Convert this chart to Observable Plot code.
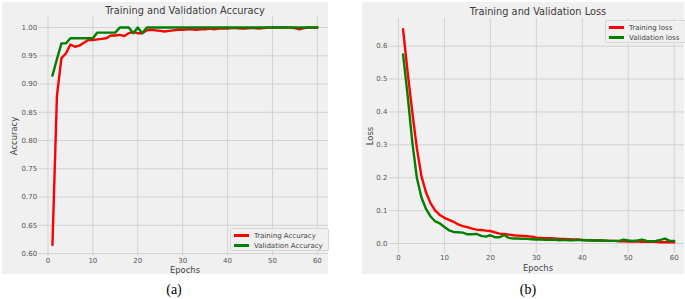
<!DOCTYPE html>
<html>
<head>
<meta charset="utf-8">
<script src="https://cdn.jsdelivr.net/npm/d3@7"></script>
<script src="https://cdn.jsdelivr.net/npm/@observablehq/plot@0.6"></script>
<style>
  html, body { margin: 0; padding: 0; background: #fff; }
  #wrap { position: relative; width: 685px; height: 299px; overflow: hidden; font-family: "DejaVu Sans", sans-serif; }
  .panel { position: absolute; background: #f0f0f0; }
  .panel svg { position: absolute; left: 0; top: 0; overflow: visible; }
  .t { position: absolute; white-space: nowrap; color: #444; transform: translate(-50%, -50%); }
  .title { font-size: 9.8px; color: #3c3c3c; }
  .alab { font-size: 8.4px; }
  .ylab { transform: translate(-50%, -50%) rotate(-90deg); }
  .cap { font-family: "Liberation Serif", "DejaVu Serif", serif; font-size: 14px; color: #000; }
  .legend { position: absolute; background: rgba(240,240,240,0.9); border: 1px solid #d6d6d6; border-radius: 2px; font-size: 7px; color: #444; box-sizing: border-box; }
  .legend .row { position: absolute; left: 0; display: flex; align-items: center; }
  .legend .sw { display: inline-block; width: 15px; height: 2.5px; margin-left: 3px; margin-right: 5px; }
</style>
</head>
<body>
<div id="wrap"></div>
<script>
// ---------- data ----------
const epochs = d3.range(1, 61);
const trainAcc = [0.615,0.879,0.946,0.954,0.970,0.966,0.968,0.973,0.978,0.978,
  0.979,0.980,0.981,0.986,0.986,0.987,0.985,0.990,0.992,0.990,
  0.990,0.995,0.996,0.995,0.994,0.993,0.994,0.995,0.996,0.996,
  0.997,0.997,0.996,0.997,0.997,0.998,0.997,0.998,0.998,0.998,
  0.999,0.999,0.998,0.998,0.999,0.999,0.998,0.999,1.000,1.000,
  1.000,1.000,1.000,1.000,0.999,0.997,0.999,1.000,1.000,1.000];
const valAcc = [0.915,0.944,0.972,0.972,0.981,0.981,0.981,0.981,0.981,0.981,
  0.991,0.991,0.991,0.991,0.991,1.000,1.000,1.000,0.990,1.000,
  0.990,1.000,1.000,1.000,1.000,1.000,1.000,1.000,1.000,1.000,
  1.000,1.000,1.000,1.000,1.000,1.000,1.000,1.000,1.000,1.000,
  1.000,1.000,1.000,1.000,1.000,1.000,1.000,1.000,1.000,1.000,
  1.000,1.000,1.000,1.000,1.000,1.000,1.000,1.000,1.000,1.000];
const trainLoss = [0.652,0.520,0.400,0.290,0.205,0.155,0.122,0.100,0.087,0.078,
  0.072,0.066,0.058,0.053,0.050,0.045,0.042,0.041,0.039,0.038,
  0.034,0.030,0.029,0.027,0.025,0.024,0.023,0.022,0.021,0.018,
  0.017,0.016,0.016,0.015,0.014,0.014,0.013,0.012,0.012,0.011,
  0.010,0.010,0.009,0.009,0.008,0.008,0.008,0.007,0.007,0.006,
  0.006,0.006,0.005,0.005,0.005,0.005,0.004,0.004,0.004,0.004];
const valLoss = [0.575,0.450,0.310,0.200,0.140,0.105,0.082,0.067,0.061,0.050,
  0.040,0.035,0.034,0.033,0.028,0.028,0.029,0.023,0.021,0.025,
  0.019,0.019,0.026,0.017,0.015,0.015,0.014,0.014,0.013,0.012,
  0.012,0.011,0.011,0.012,0.010,0.011,0.010,0.010,0.011,0.010,
  0.010,0.009,0.009,0.009,0.009,0.008,0.008,0.008,0.012,0.009,
  0.008,0.009,0.012,0.008,0.007,0.008,0.011,0.015,0.008,0.008];
const xTicks = [0, 10, 20, 30, 40, 50, 60];
const accTicks = [0.60, 0.65, 0.70, 0.75, 0.80, 0.85, 0.90, 0.95, 1.00];
const lossTicks = [0.0, 0.1, 0.2, 0.3, 0.4, 0.5, 0.6];
const accLabels = ["Training Accuracy", "Validation Accuracy"];
const lossLabels = ["Training loss", "Validation loss"];
const colors = ["#ff0000", "#008000"];

const wrap = document.getElementById("wrap");

function el(cls, text, x, y) {
  const d = document.createElement("div");
  d.className = "t " + cls;
  d.textContent = text;
  d.style.left = x + "px";
  d.style.top = y + "px";
  wrap.appendChild(d);
  return d;
}

function panel(cfg) {
  const p = document.createElement("div");
  p.className = "panel";
  p.style.left = cfg.left + "px";
  p.style.top = cfg.top + "px";
  p.style.width = cfg.width + "px";
  p.style.height = cfg.height + "px";
  wrap.appendChild(p);
  const rows = (s) => s.map((v, i) => ({epoch: epochs[i], v}));
  const chart = Plot.plot({
    width: cfg.width,
    height: cfg.height,
    marginLeft: cfg.xRange[0],
    marginRight: 0,
    marginTop: cfg.yRange[1],
    marginBottom: cfg.height - cfg.yRange[0],
    style: {background: "transparent", fontSize: "7px", fontFamily: "DejaVu Sans, sans-serif", color: "#555", overflow: "visible"},
    x: {domain: [-1.95, 62.95], range: cfg.xRange},
    y: {domain: cfg.yDomain, range: cfg.yRange},
    marks: [
      Plot.gridX(xTicks, {stroke: "#d2d2d2", strokeOpacity: 1, strokeWidth: 1}),
      Plot.gridY(cfg.yTicks, {stroke: "#d2d2d2", strokeOpacity: 1, strokeWidth: 1}),
      Plot.axisX({ticks: xTicks, tickSize: 0, tickPadding: 2, label: null, tickFormat: d3.format("d")}),
      Plot.axisY({ticks: cfg.yTicks, tickSize: 0, tickPadding: cfg.yPad, label: null, tickFormat: d3.format(cfg.fmt)}),
      Plot.line(rows(cfg.series[0]), {x: "epoch", y: "v", stroke: colors[0], strokeWidth: 2.4}),
      Plot.line(rows(cfg.series[1]), {x: "epoch", y: "v", stroke: colors[1], strokeWidth: 2.4})
    ]
  });
  p.appendChild(chart);

  const lg = document.createElement("div");
  lg.className = "legend";
  lg.style.left = (cfg.legend.x - cfg.left) + "px";
  lg.style.top = (cfg.legend.y - cfg.top) + "px";
  lg.style.width = cfg.legend.w + "px";
  lg.style.height = cfg.legend.h + "px";
  cfg.labels.forEach((lab, i) => {
    const r = document.createElement("div");
    r.className = "row";
    r.style.top = (2 + i * 10) + "px";
    r.style.height = "9px";
    const sw = document.createElement("span");
    sw.className = "sw";
    sw.style.background = colors[i];
    const tx = document.createElement("span");
    tx.textContent = lab;
    r.appendChild(sw);
    r.appendChild(tx);
    lg.appendChild(r);
  });
  p.appendChild(lg);
}

panel({
  left: 2, top: 2, width: 326, height: 272,
  xRange: [36.7, 328.1],
  yDomain: [0.596, 1.019], yRange: [253.3, 14.3],
  yTicks: accTicks, fmt: ".2f", yPad: 2,
  series: [trainAcc, valAcc],
  labels: accLabels,
  legend: {x: 230, y: 228, w: 99, h: 23}
});
panel({
  left: 362, top: 2, width: 322, height: 272,
  xRange: [27.0, 325.3],
  yDomain: [-0.0295, 0.6845], yRange: [250.7, 15.9],
  yTicks: lossTicks, fmt: ".1f", yPad: 2,
  series: [trainLoss, valLoss],
  labels: lossLabels,
  legend: {x: 605, y: 20, w: 82, h: 23}
});

el("title", "Training and Validation Accuracy", 185, 10);
el("title", "Training and Validation Loss", 538, 11);
el("alab", "Epochs", 185, 270);
el("alab", "Epochs", 538, 267.5);
el("alab ylab", "Accuracy", 14, 136);
el("alab ylab", "Loss", 370, 136);
el("cap", "(a)", 174, 290);
el("cap", "(b)", 528, 290);
</script>
</body>
</html>
